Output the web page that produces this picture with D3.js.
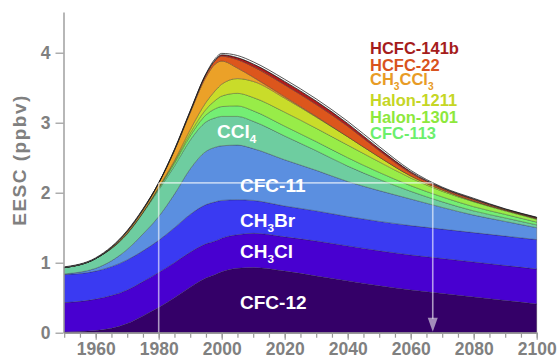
<!DOCTYPE html>
<html>
<head>
<meta charset="utf-8">
<script src="https://cdn.jsdelivr.net/npm/d3@7"></script>
<style>
  body { margin: 0; background: #fff; }
  svg { display: block; font-family: "Liberation Sans", Arial, Helvetica, sans-serif; font-weight: bold; }
</style>
</head>
<body>
<svg id="chart"></svg>
<script>
// EESC contributions (ppbv) by species
const years = [1950, 1960, 1970, 1975, 1980, 1985, 1990, 1995, 1998, 2000, 2005, 2010, 2020, 2030, 2040, 2050, 2060, 2070, 2080, 2090, 2100];

const cfc12     = [0.01, 0.03, 0.13, 0.24, 0.36, 0.50, 0.65, 0.78, 0.83, 0.87, 0.92, 0.93, 0.88, 0.81, 0.74, 0.67, 0.61, 0.56, 0.51, 0.46, 0.41];
const ch3cl     = [0.42, 0.45, 0.48, 0.49, 0.50, 0.50, 0.50, 0.49, 0.48, 0.48, 0.48, 0.49, 0.49, 0.50, 0.50, 0.50, 0.50, 0.50, 0.50, 0.50, 0.50];
const ch3br     = [0.40, 0.40, 0.43, 0.44, 0.46, 0.50, 0.54, 0.56, 0.56, 0.54, 0.50, 0.47, 0.44, 0.43, 0.42, 0.42, 0.42, 0.42, 0.42, 0.42, 0.42];
const cfc11     = [0.01, 0.04, 0.15, 0.24, 0.34, 0.48, 0.65, 0.76, 0.78, 0.78, 0.78, 0.74, 0.66, 0.58, 0.50, 0.44, 0.38, 0.31, 0.25, 0.21, 0.17];
const ccl4      = [0.09, 0.14, 0.22, 0.30, 0.38, 0.40, 0.41, 0.42, 0.42, 0.42, 0.41, 0.39, 0.34, 0.28, 0.22, 0.16, 0.11, 0.08, 0.06, 0.05, 0.04];
const cfc113    = [0.00, 0.00, 0.01, 0.01, 0.02, 0.04, 0.06, 0.10, 0.13, 0.14, 0.15, 0.15, 0.14, 0.13, 0.12, 0.10, 0.08, 0.07, 0.06, 0.05, 0.04];
const halon1301 = [0.00, 0.00, 0.00, 0.00, 0.01, 0.02, 0.04, 0.08, 0.12, 0.15, 0.18, 0.19, 0.20, 0.19, 0.18, 0.15, 0.11, 0.08, 0.07, 0.05, 0.04];
const halon1211 = [0.00, 0.00, 0.00, 0.00, 0.01, 0.02, 0.05, 0.10, 0.14, 0.17, 0.21, 0.23, 0.20, 0.16, 0.12, 0.07, 0.03, 0.02, 0.01, 0.01, 0.01];
const ch3ccl3   = [0.00, 0.00, 0.02, 0.03, 0.05, 0.14, 0.24, 0.36, 0.38, 0.33, 0.15, 0.06, 0.02, 0.01, 0.00, 0.00, 0.00, 0.00, 0.00, 0.00, 0.00];
const hcfc22    = [0.00, 0.00, 0.01, 0.01, 0.01, 0.01, 0.02, 0.04, 0.05, 0.07, 0.12, 0.15, 0.17, 0.17, 0.15, 0.09, 0.04, 0.02, 0.02, 0.01, 0.01];
const hcfc141b  = [0.00, 0.00, 0.00, 0.00, 0.00, 0.00, 0.00, 0.00, 0.01, 0.02, 0.03, 0.04, 0.05, 0.05, 0.04, 0.03, 0.02, 0.01, 0.01, 0.005, 0.005];
const others    = [0.01, 0.01, 0.01, 0.01, 0.00, 0.01, 0.01, 0.01, 0.02, 0.02, 0.03, 0.03, 0.03, 0.03, 0.03, 0.03, 0.02, 0.01, 0.01, 0.005, 0.005];

const seriesKeys   = ["cfc12", "ch3cl", "ch3br", "cfc11", "ccl4", "cfc113", "halon1301", "halon1211", "ch3ccl3", "hcfc22", "hcfc141b", "others"];
const seriesValues = [cfc12, ch3cl, ch3br, cfc11, ccl4, cfc113, halon1301, halon1211, ch3ccl3, hcfc22, hcfc141b, others];
const seriesColors = ["#340068", "#4800d0", "#3a3af2", "#5b8fe0", "#6ecda0", "#74ee74", "#98ec48", "#c9dc2a", "#eba128", "#dc561c", "#b01c1c", "#ffffff"];

const yTicks = [0, 1, 2, 3, 4];
const xMajorTicks = [1960, 1980, 2000, 2020, 2040, 2060, 2080, 2100];
const xMinorTicks = d3.range(1950, 2101, 5);

// 1980 level and year it comes back
const refLevel = 2.14, refStart = 1980, refEnd = 2067;

const width = 559, height = 358;
const gray = "#808080";

const svg = d3.select("#chart")
    .attr("width", width)
    .attr("height", height);

const x = d3.scaleLinear().domain([1950, 2100]).range([64.2, 536.7]);
const y = d3.scaleLinear().domain([0, 4.58]).range([332.7, 12.1]);

// Step 1: stack the species
const rows = years.map((yr, i) => {
    const row = { year: yr };
    seriesKeys.forEach((k, j) => { row[k] = seriesValues[j][i]; });
    return row;
});
const stacked = d3.stack().keys(seriesKeys)(rows);

const area = d3.area()
    .x(d => x(d.data.year))
    .y0(d => y(d[0]))
    .y1(d => y(d[1]))
    .curve(d3.curveMonotoneX);

const last = seriesKeys.length - 1;
svg.append("g")
    .selectAll("path")
    .data(stacked)
    .join("path")
    .attr("d", area)
    .attr("fill", (d, i) => seriesColors[i])
    .attr("stroke", (d, i) => i === last ? "#111" : "#222")
    .attr("stroke-width", (d, i) => i === last ? 0.8 : 0.5)
    .attr("stroke-opacity", (d, i) => i === last ? 0.9 : 0.6);

// Step 2: 1980 level annotation
const note = svg.append("g")
    .attr("stroke", "#fff")
    .attr("stroke-opacity", 0.6)
    .attr("stroke-width", 1.6)
    .attr("fill", "none");

note.append("line")
    .attr("x1", x(refStart)).attr("x2", x(refEnd))
    .attr("y1", y(refLevel)).attr("y2", y(refLevel));
note.append("line")
    .attr("x1", x(refStart)).attr("x2", x(refStart))
    .attr("y1", y(refLevel)).attr("y2", y(0));
note.append("line")
    .attr("x1", x(refEnd)).attr("x2", x(refEnd))
    .attr("y1", y(refLevel)).attr("y2", y(0) - 14);
svg.append("path")
    .attr("d", `M${x(refEnd) - 5},${y(0) - 15} L${x(refEnd) + 5},${y(0) - 15} L${x(refEnd)},${y(0) - 1} Z`)
    .attr("fill", "#fff")
    .attr("fill-opacity", 0.55);

// Step 3: axes
const yAxis = svg.append("g")
    .attr("transform", `translate(${x(1950) - 0.7},0)`)
    .call(d3.axisLeft(y).tickValues(yTicks).tickSize(8).tickSizeOuter(0).tickPadding(5).tickFormat(d3.format("d")));

const xMinor = svg.append("g")
    .attr("transform", `translate(0,${y(0)})`)
    .call(d3.axisBottom(x).tickValues(xMinorTicks).tickSize(5).tickSizeOuter(0).tickFormat(""));

const xAxis = svg.append("g")
    .attr("transform", `translate(0,${y(0)})`)
    .call(d3.axisBottom(x).tickValues(xMajorTicks).tickSize(7).tickSizeOuter(0).tickPadding(3).tickFormat(d3.format("d")));

[yAxis, xMinor, xAxis].forEach(g => {
    g.select(".domain").attr("stroke", "#999").attr("stroke-width", 1.4);
    g.selectAll(".tick line").attr("stroke", "#999").attr("stroke-width", 1.2);
    g.selectAll(".tick text")
        .attr("fill", gray)
        .style("font-size", "17.5px")
        .style("font-weight", "bold")
        .style("font-family", "'Liberation Sans', Arial, sans-serif");
});

svg.append("text")
    .attr("transform", "translate(26,160) rotate(-90)")
    .attr("text-anchor", "middle")
    .attr("fill", gray)
    .style("font-size", "19px")
    .style("letter-spacing", "1.5px")
    .text("EESC (ppbv)");

// Step 4: labels inside the stack (white) and legend (coloured)
function subLabel(parent, xPos, yPos, parts, color, size) {
    const t = parent.append("text")
        .attr("x", xPos)
        .attr("y", yPos)
        .attr("fill", color)
        .style("font-size", size + "px");
    let down = false;
    parts.forEach(p => {
        const sub = p.startsWith("_");
        const shift = sub && !down ? 5 : (!sub && down ? -5 : 0);
        t.append("tspan")
            .attr("dy", shift)
            .style("font-size", sub ? (size * 0.62) + "px" : null)
            .text(sub ? p.slice(1) : p);
        down = sub;
    });
}

const inner = svg.append("g");
subLabel(inner, 217, 137.5, ["CCl", "_4"], "#fff", 19);
subLabel(inner, 240, 191.5, ["CFC-11"], "#fff", 19);
subLabel(inner, 240, 226.7, ["CH", "_3", "Br"], "#fff", 19);
subLabel(inner, 240, 257.7, ["CH", "_3", "Cl"], "#fff", 19);
subLabel(inner, 240, 309.3, ["CFC-12"], "#fff", 19);

const legendLabels = [
    { parts: ["HCFC-141b"], color: "#a51c1c", yPos: 54 },
    { parts: ["HCFC-22"], color: "#d9531e", yPos: 70.7 },
    { parts: ["CH", "_3", "CCl", "_3"], color: "#e89b25", yPos: 84.5 },
    { parts: ["Halon-1211"], color: "#c5d624", yPos: 106 },
    { parts: ["Halon-1301"], color: "#8de83c", yPos: 122.7 },
    { parts: ["CFC-113"], color: "#6cef6c", yPos: 139.3 }
];
const legend = svg.append("g");
legendLabels.forEach(l => subLabel(legend, 370, l.yPos, l.parts, l.color, 16.5));
</script>
</body>
</html>
